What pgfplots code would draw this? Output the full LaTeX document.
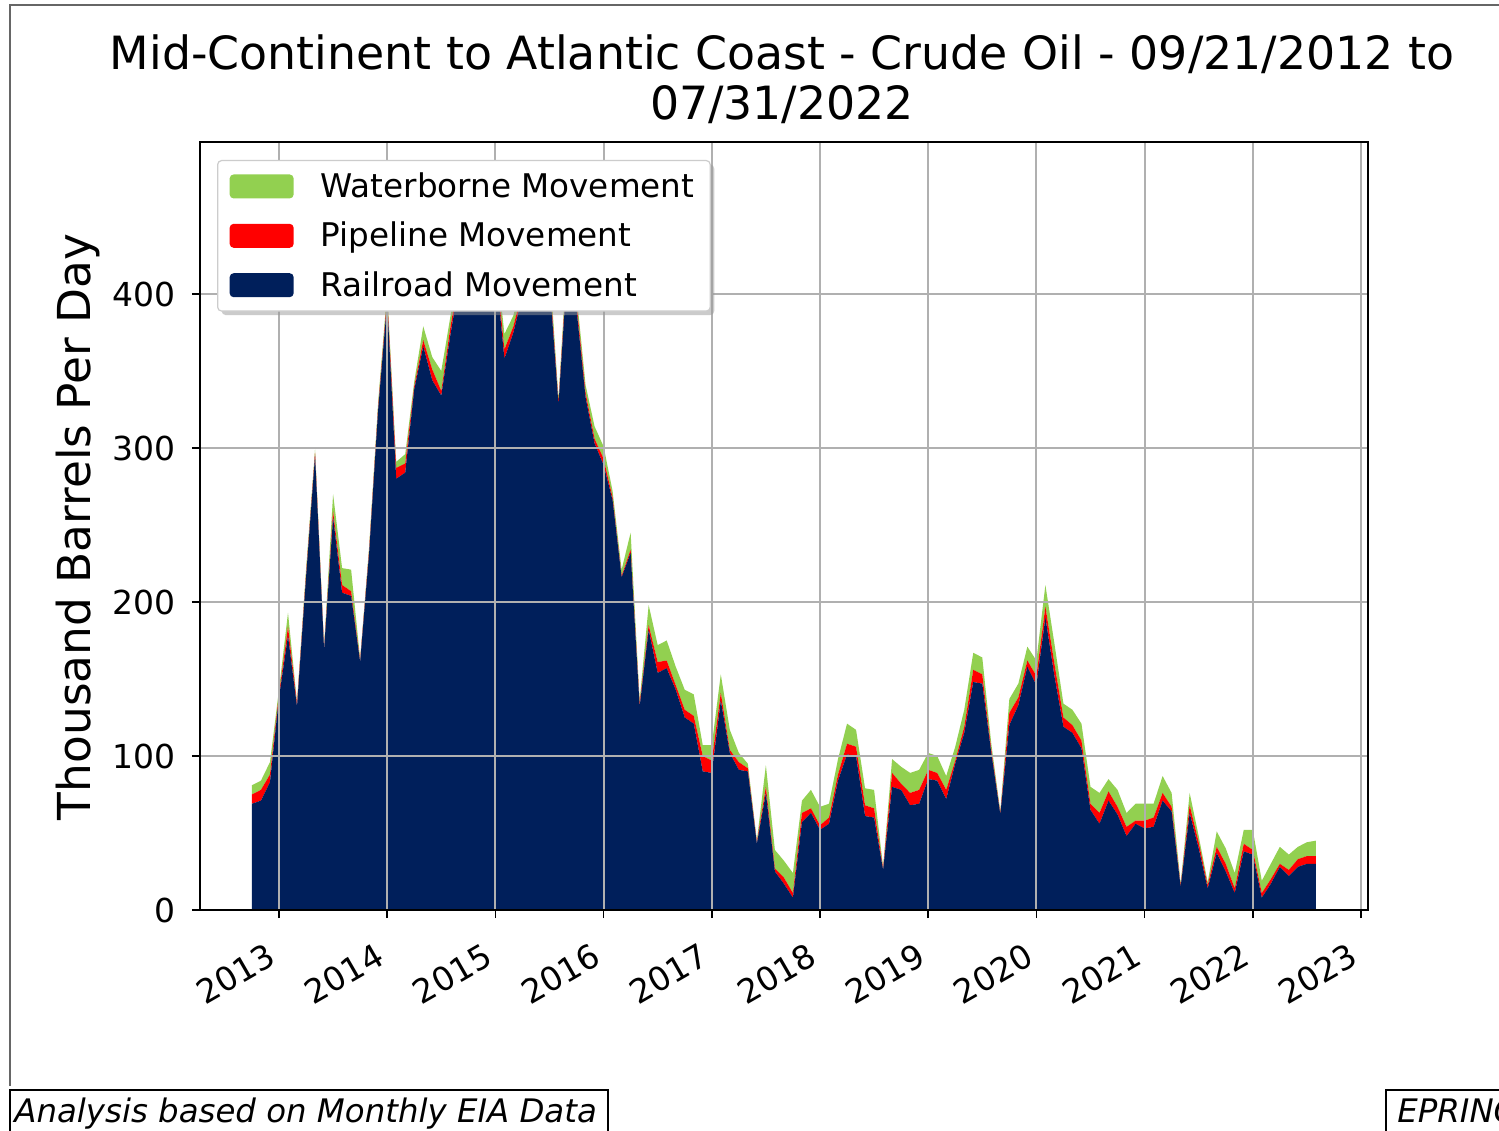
\documentclass[border=0pt]{standalone}
\usepackage{fontspec}
\setmainfont{DejaVu Sans}
\usepackage{pgfplots}
\pgfplotsset{compat=1.18}
\usepackage{pgfplotstable}
\usetikzlibrary{shadows}
\definecolor{rail}{HTML}{001F5B}
\definecolor{pipe}{HTML}{FF0000}
\definecolor{water}{HTML}{92D050}
\definecolor{gridgray}{HTML}{B0B0B0}
\makeatletter
\tikzset{no preaction/.code={\let\tikz@preactions\pgfutil@empty}}
\makeatother

\pgfplotstableread{
i rail pipe water
0 69 6 6
1 71 7 6
2 83 5 8
3 138 2 3
4 178 6 9
5 132 2 1
6 216 2 3
7 295 2 2
8 169 1 1
9 255 4 11
10 206 5 11
11 204 3 14
12 161 1 1
13 232 2 2
14 325 2 3
15 395 3 4
16 280 7 4
17 284 6 6
18 338 2 3
19 366 4 9
20 344 7 8
21 334 3 13
22 373 5 7
23 408 5 7
24 437 5 8
25 428 5 7
26 462 5 8
27 418 5 7
28 358 6 10
29 375 4 7
30 399 4 7
31 433 4 8
32 448 4 8
33 408 4 8
34 328 2 2
35 419 4 7
36 390 4 6
37 333 3 5
38 303 3 8
39 289 4 8
40 266 2 4
41 216 1 4
42 232 2 11
43 132 2 2
44 182 3 13
45 154 7 11
46 157 5 13
47 143 3 12
48 125 5 13
49 121 5 14
50 90 10 7
51 89 8 10
52 136 5 12
53 102 2 13
54 91 5 6
55 90 2 3
56 43 1 1
57 76 4 14
58 25 2 12
59 17 4 11
60 8 3 13
61 57 6 8
62 63 3 12
63 52 3 12
64 56 4 9
65 84 4 10
66 101 7 13
67 100 6 11
68 61 7 11
69 60 6 12
70 26 1 1
71 80 9 9
72 78 4 11
73 68 8 13
74 69 9 13
75 85 6 11
76 84 5 11
77 72 6 9
78 95 2 9
79 115 4 11
80 148 8 11
81 147 6 11
82 102 2 4
83 62 1 1
84 120 8 9
85 133 5 9
86 158 4 9
87 146 6 10
88 190 7 14
89 152 8 13
90 119 6 9
91 115 5 10
92 105 5 11
93 65 4 11
94 56 7 13
95 71 6 8
96 62 5 11
97 48 6 9
98 56 2 11
99 53 5 11
100 54 6 9
101 71 5 11
102 64 3 9
103 15 1 1
104 63 5 8
105 40 4 4
106 14 2 2
107 37 4 10
108 25 5 10
109 11 3 10
110 38 5 9
111 36 3 13
112 8 3 8
113 17 3 10
114 28 2 11
115 22 4 10
116 28 5 8
117 30 5 9
118 30 5 10
}\datatable

\begin{document}
\begin{tikzpicture}
\useasboundingbox (0pt,0pt) rectangle (749.5pt,565pt);
\clip (0pt,0pt) rectangle (749.5pt,565pt);
\fill[white] (0pt,0pt) rectangle (749.5pt,565pt);
% figure frame
\draw[black!60, line width=0.6pt] (5pt,22pt) -- (5pt,562.5pt) -- (749.5pt,562.5pt);
\begin{axis}[
  at={(100pt,110pt)}, anchor=south west,
  width=584pt, height=384pt, scale only axis,
  xmin=-5.76, xmax=123.78, ymin=0, ymax=498.7,
  xtick={3,15,27,39,51,63,75,87,99,111,123},
  xticklabels={2013,2014,2015,2016,2017,2018,2019,2020,2021,2022,2023},
  ytick={0,100,200,300,400},
  stack plots=y,
  axis on top,
  grid=major,
  major grid style={gridgray, line width=1pt},
  axis line style={black, line width=0.8pt},
  tick style={black, line width=0.8pt},
  tick align=outside, major tick length=4pt,
  xtick pos=bottom, ytick pos=left,
  /pgf/number format/assume math mode=true,
  tick label style={font=\fontsize{16.5}{19}\selectfont},
  xticklabel style={rotate=30, anchor=north east, inner sep=1pt, yshift=-6pt, xshift=-10.5pt},
  yticklabel style={anchor=east, inner sep=1pt, xshift=-7pt},
  reverse legend,
  legend cell align=left,
  legend image code/.code={\fill[no preaction, #1] (0pt,-6pt) rectangle (32pt,6pt); \path (43.5pt,0pt);},
  legend style={at={(0.0146,0.9766)}, anchor=north west,
    draw=gray!40, line width=0.6pt, rounded corners=2pt, fill=white,
    font=\fontsize{16.3}{19}\selectfont,
    inner xsep=6pt, inner ysep=4pt, row sep=6.8pt,
    drop shadow={shadow xshift=2pt, shadow yshift=-2pt, fill=black!40}},
]
\addplot[fill=rail, draw=none] table[x=i, y=rail] {\datatable} \closedcycle;
\addlegendentry{Railroad Movement}
\addplot[fill=pipe, draw=none] table[x=i, y=pipe] {\datatable} \closedcycle;
\addlegendentry{Pipeline Movement}
\addplot[fill=water, draw=none] table[x=i, y=water] {\datatable} \closedcycle;
\addlegendentry{Waterborne Movement}
\end{axis}
% title
\node[anchor=base, font=\fontsize{22.9}{27}\selectfont] at (391pt,530pt) {Mid-Continent to Atlantic Coast - Crude Oil - 09/21/2012 to};
\node[anchor=base, font=\fontsize{22.9}{27}\selectfont] at (391pt,505pt) {07/31/2022};
% y label
\node[rotate=90, anchor=base, font=\fontsize{22.7}{27}\selectfont] at (45pt,301.5pt) {Thousand Barrels Per Day};
% footer boxes
\draw[black, line width=1pt, fill=white] (5pt,-5pt) rectangle (304pt,20pt);
\node[anchor=base west, inner sep=0pt, font=\fontsize{16.2}{19}\selectfont\itshape] at (7pt,4pt) {Analysis based on Monthly EIA Data};
\draw[black, line width=1pt, fill=white] (693pt,-5pt) rectangle (780pt,20pt);
\node[anchor=base west, inner sep=0pt, font=\fontsize{16.2}{19}\selectfont\itshape] at (698.5pt,4pt) {EPRINC};
\end{tikzpicture}
\end{document}
